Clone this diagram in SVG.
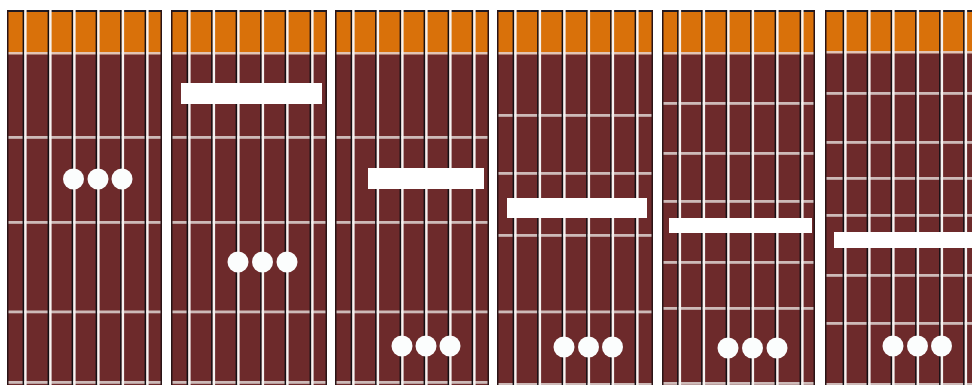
<svg xmlns="http://www.w3.org/2000/svg" xmlns:xlink="http://www.w3.org/1999/xlink" width="972" height="385" viewBox="0 0 972 385">
<style>
.board{fill:#6d2a2b}
.head{fill:#d9710a}
.top{fill:#1e1a24}
.edge{fill:#2a1416}
.nut{fill:#e2c4b4}
.fret{fill:#cdbab8}
.bar{fill:#ffffff}
.dot{fill:#fbfdfd}
</style>
<defs>
<g id="str"><rect x="-2.4" y="10" width="1.6" height="375" fill="#141014"/><rect x="-0.8" y="10" width="2.4" height="375" fill="#f6f2f0"/></g>
</defs>
<rect width="972" height="385" fill="#ffffff"/>
<g id="panel1">
<rect class="board" x="7" y="10" width="155" height="375"/>
<rect class="head" x="7" y="12" width="155" height="40"/>
<rect class="top" x="7" y="10" width="155" height="2"/>
<rect class="nut" x="7" y="52" width="155" height="2.5"/>
<rect class="fret" x="7" y="136" width="155" height="2.8"/>
<rect class="fret" x="7" y="221" width="155" height="2.8"/>
<rect class="fret" x="7" y="310.5" width="155" height="2.8"/>
<rect class="fret" x="7" y="381" width="155" height="2.8"/>
<rect class="edge" x="7" y="10" width="1.5" height="375"/>
<rect class="edge" x="160.5" y="10" width="1.5" height="375"/>
<use xlink:href="#str" x="25"/><use xlink:href="#str" x="50"/><use xlink:href="#str" x="74"/><use xlink:href="#str" x="98"/><use xlink:href="#str" x="122.5"/><use xlink:href="#str" x="147"/>
<circle class="dot" cx="73.5" cy="179" r="10.5"/><circle class="dot" cx="98" cy="179" r="10.5"/><circle class="dot" cx="122" cy="179" r="10.5"/>
</g>
<g id="panel2">
<rect class="board" x="171" y="10" width="156" height="375"/>
<rect class="head" x="171" y="12" width="156" height="40"/>
<rect class="top" x="171" y="10" width="156" height="2"/>
<rect class="nut" x="171" y="52" width="156" height="2.5"/>
<rect class="fret" x="171" y="136" width="156" height="2.8"/>
<rect class="fret" x="171" y="221" width="156" height="2.8"/>
<rect class="fret" x="171" y="310.5" width="156" height="2.8"/>
<rect class="fret" x="171" y="381" width="156" height="2.8"/>
<rect class="edge" x="171" y="10" width="1.5" height="375"/>
<rect class="edge" x="325.5" y="10" width="1.5" height="375"/>
<use xlink:href="#str" x="189"/><use xlink:href="#str" x="213.5"/><use xlink:href="#str" x="238"/><use xlink:href="#str" x="262.5"/><use xlink:href="#str" x="287"/><use xlink:href="#str" x="312"/>
<rect class="bar" x="181" y="83" width="141" height="21"/>
<circle class="dot" cx="238" cy="262" r="10.5"/><circle class="dot" cx="262.5" cy="262" r="10.5"/><circle class="dot" cx="287" cy="262" r="10.5"/>
</g>
<g id="panel3">
<rect class="board" x="335" y="10" width="154" height="375"/>
<rect class="head" x="335" y="12" width="154" height="40"/>
<rect class="top" x="335" y="10" width="154" height="2"/>
<rect class="nut" x="335" y="52" width="154" height="2.5"/>
<rect class="fret" x="335" y="136" width="154" height="2.8"/>
<rect class="fret" x="335" y="221" width="154" height="2.8"/>
<rect class="fret" x="335" y="310.5" width="154" height="2.8"/>
<rect class="fret" x="335" y="381" width="154" height="2.8"/>
<rect class="edge" x="335" y="10" width="1.5" height="375"/>
<rect class="edge" x="487.5" y="10" width="1.5" height="375"/>
<use xlink:href="#str" x="353"/><use xlink:href="#str" x="377.5"/><use xlink:href="#str" x="402"/><use xlink:href="#str" x="426"/><use xlink:href="#str" x="450"/><use xlink:href="#str" x="474"/>
<rect class="bar" x="368" y="168" width="116" height="21"/>
<circle class="dot" cx="402" cy="346" r="10.5"/><circle class="dot" cx="426" cy="346" r="10.5"/><circle class="dot" cx="450" cy="346" r="10.5"/>
</g>
<g id="panel4">
<rect class="board" x="497" y="10" width="156" height="375"/>
<rect class="head" x="497" y="12" width="156" height="40"/>
<rect class="top" x="497" y="10" width="156" height="2"/>
<rect class="nut" x="497" y="52" width="156" height="2.5"/>
<rect class="fret" x="497" y="114" width="156" height="2.8"/>
<rect class="fret" x="497" y="172" width="156" height="2.8"/>
<rect class="fret" x="497" y="234" width="156" height="2.8"/>
<rect class="fret" x="497" y="310.5" width="156" height="2.8"/>
<rect class="fret" x="497" y="383" width="156" height="2"/>
<rect class="edge" x="497" y="10" width="1.5" height="375"/>
<rect class="edge" x="651.5" y="10" width="1.5" height="375"/>
<use xlink:href="#str" x="515"/><use xlink:href="#str" x="539.5"/><use xlink:href="#str" x="564"/><use xlink:href="#str" x="588.5"/><use xlink:href="#str" x="612.5"/><use xlink:href="#str" x="637"/>
<rect class="bar" x="507" y="198" width="140" height="20"/>
<circle class="dot" cx="564" cy="347" r="10.5"/><circle class="dot" cx="588.5" cy="347" r="10.5"/><circle class="dot" cx="612.5" cy="347" r="10.5"/>
</g>
<g id="panel5">
<rect class="board" x="662" y="10" width="153" height="375"/>
<rect class="head" x="662" y="12" width="153" height="40"/>
<rect class="top" x="662" y="10" width="153" height="2"/>
<rect class="nut" x="662" y="52" width="153" height="2.5"/>
<rect class="fret" x="662" y="102" width="153" height="2.8"/>
<rect class="fret" x="662" y="152" width="153" height="2.8"/>
<rect class="fret" x="662" y="200" width="153" height="2.8"/>
<rect class="fret" x="662" y="261" width="153" height="2.8"/>
<rect class="fret" x="662" y="307" width="153" height="2.8"/>
<rect class="fret" x="662" y="382" width="153" height="2.8"/>
<rect class="edge" x="662" y="10" width="1.5" height="375"/>
<rect class="edge" x="813.5" y="10" width="1.5" height="375"/>
<use xlink:href="#str" x="679.5"/><use xlink:href="#str" x="703.5"/><use xlink:href="#str" x="728"/><use xlink:href="#str" x="752.5"/><use xlink:href="#str" x="777"/><use xlink:href="#str" x="802"/>
<rect class="bar" x="669" y="218" width="143" height="15"/>
<circle class="dot" cx="728" cy="348" r="10.5"/><circle class="dot" cx="752.5" cy="348" r="10.5"/><circle class="dot" cx="777" cy="348" r="10.5"/>
</g>
<g id="panel6">
<rect class="board" x="825" y="10" width="147" height="375"/>
<rect class="head" x="825" y="12" width="147" height="40"/>
<rect class="top" x="825" y="10" width="147" height="2"/>
<rect class="nut" x="825" y="51" width="147" height="2.5"/>
<rect class="fret" x="825" y="92" width="147" height="2.8"/>
<rect class="fret" x="825" y="141" width="147" height="2.8"/>
<rect class="fret" x="825" y="177" width="147" height="2.8"/>
<rect class="fret" x="825" y="214" width="147" height="2.8"/>
<rect class="fret" x="825" y="274" width="147" height="2.8"/>
<rect class="fret" x="825" y="322" width="147" height="2.8"/>
<rect class="fret" x="825" y="383" width="147" height="2"/>
<rect class="edge" x="825" y="10" width="1.5" height="375"/>
<use xlink:href="#str" x="845"/><use xlink:href="#str" x="869"/><use xlink:href="#str" x="893"/><use xlink:href="#str" x="917.5"/><use xlink:href="#str" x="941.5"/><use xlink:href="#str" x="965.5"/>
<rect class="bar" x="834" y="232" width="138" height="16"/>
<circle class="dot" cx="893" cy="346" r="10.5"/><circle class="dot" cx="917.5" cy="346" r="10.5"/><circle class="dot" cx="941.5" cy="346" r="10.5"/>
</g>
</svg>
